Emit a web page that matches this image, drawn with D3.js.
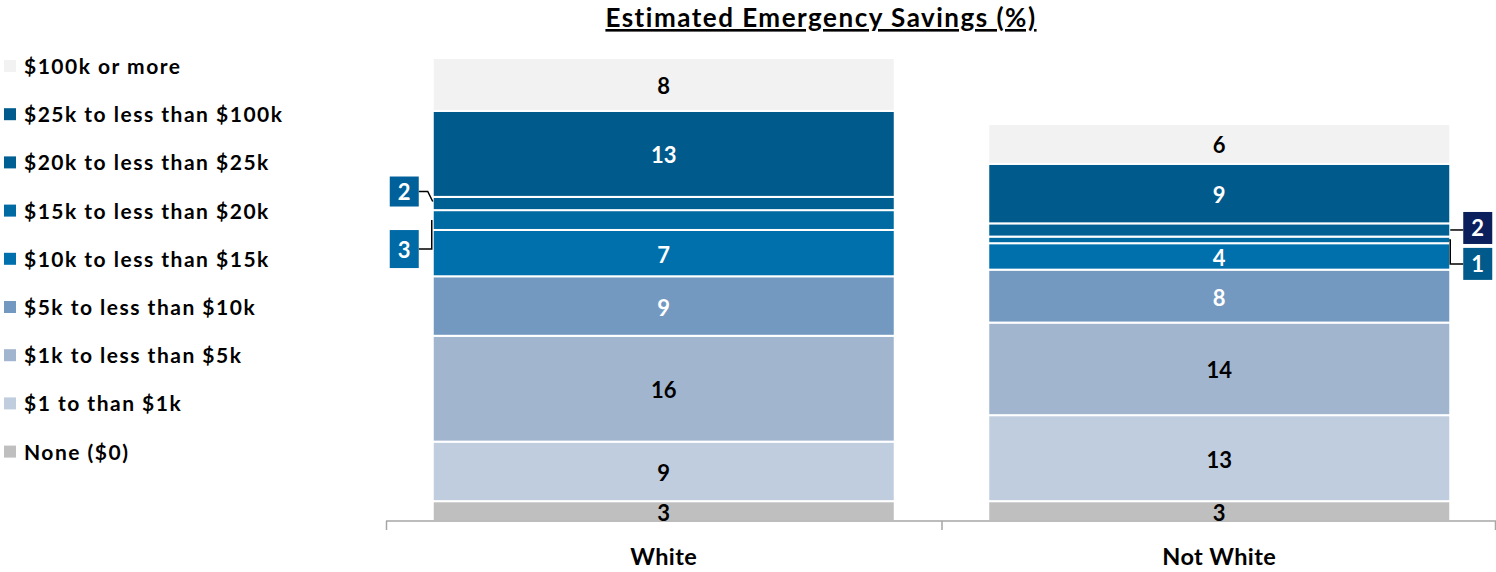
<!DOCTYPE html>
<html><head><meta charset="utf-8">
<script src="https://cdnjs.cloudflare.com/ajax/libs/d3/7.8.5/d3.min.js"></script>
<style>
html,body{margin:0;padding:0;background:#fff;}
svg text{font-family:Lato,"Open Sans",sans-serif;font-weight:700;}
</style></head>
<body><svg id="c" width="1496" height="572"></svg>
<script>
const categories = ["White", "Not White"];
const seriesNames = ["None ($0)", "$1 to than $1k", "$1k to less than $5k", "$5k to less than $10k",
  "$10k to less than $15k", "$15k to less than $20k", "$20k to less than $25k",
  "$25k to less than $100k", "$100k or more"];
const whiteValues = [3, 9, 16, 9, 7, 3, 2, 13, 8];
const notWhiteValues = [3, 13, 14, 8, 4, 1, 2, 9, 6];
const colors = ["#bfbfbf", "#c0cddf", "#a2b5cf", "#7399c1", "#0070ad", "#006aa3", "#005f93", "#005b8c", "#f2f2f2"];
const labelColors = ["#000", "#000", "#000", "#fff", "#fff", "#fff", "#fff", "#fff", "#000"];
const title = "Estimated Emergency Savings (%)";

const svg = d3.select("#c");
const valuesBy = {"White": whiteValues, "Not White": notWhiteValues};

const x = d3.scaleBand().domain(categories).range([386, 1497]).paddingInner(0).paddingOuter(0);
const barW = 462;
const y = d3.scaleLinear().domain([0, 70]).range([521, 58]);

// title
svg.append("text").attr("x", 821).attr("y", 27).attr("text-anchor", "middle")
  .attr("font-size", 26).attr("letter-spacing", 1.5).attr("text-decoration", "underline").attr("fill", "#000").text(title);

// bars
const stackData = categories.map(c => {
  let cum = 0;
  return valuesBy[c].map((v, i) => { const s = {cat: c, i, v, y0: cum, y1: cum + v}; cum += v; return s; });
});
const segs = stackData.flat();
const bx = c => x(c) + (x.bandwidth() - barW) / 2;

svg.append("g").selectAll("rect").data(segs).join("rect")
  .attr("x", d => bx(d.cat)).attr("width", barW)
  .attr("y", d => y(d.y1)).attr("height", d => y(d.y0) - y(d.y1))
  .attr("fill", d => colors[d.i]).attr("stroke", "#fff").attr("stroke-width", 2);

// axis
const axisG = svg.append("g").attr("transform", "translate(0,521)");
axisG.append("line").attr("x1", 386).attr("x2", 1496).attr("y1", 0).attr("y2", 0).attr("stroke", "#a6a6a6").attr("stroke-width", 1.5);
const tickXs = categories.map(c => x(c)).concat([x(categories[categories.length - 1]) + x.bandwidth() - 2]);
axisG.selectAll("line.t").data(tickXs).join("line").attr("class", "t")
  .attr("x1", d => d + 0.5).attr("x2", d => d + 0.5).attr("y1", 0).attr("y2", 9).attr("stroke", "#a6a6a6").attr("stroke-width", 1.5);
axisG.selectAll("text").data(categories).join("text")
  .attr("x", d => x(d) + x.bandwidth() / 2).attr("y", 44).attr("text-anchor", "middle")
  .attr("font-size", 23.5).attr("letter-spacing", 0.4).attr("fill", "#000").text(d => d);

// inside labels
const outside = {"White": {5: {side: "left", dy: 29}, 6: {side: "left", dy: -12}},
                 "Not White": {5: {side: "right", dy: 24}, 6: {side: "right", dy: -2}}};
const boxColors = {"White": {5: "#006aa6", 6: "#00609a"}, "Not White": {5: "#005b8c", 6: "#0a1f5c"}};
svg.append("g").selectAll("text").data(segs.filter(d => !(outside[d.cat][d.i]))).join("text")
  .attr("x", d => bx(d.cat) + barW / 2)
  .attr("y", d => (y(d.y0) + y(d.y1)) / 2 + 9.5)
  .attr("text-anchor", "middle").attr("font-size", 22)
  .attr("fill", d => labelColors[d.i]).text(d => d.v);

// callouts
const cg = svg.append("g");
segs.filter(d => outside[d.cat][d.i]).forEach(d => {
  const o = outside[d.cat][d.i];
  const cy = (y(d.y0) + y(d.y1)) / 2;
  const by = cy + o.dy;
  const bh = d.i === 5 && d.cat === "White" ? 38 : (d.cat === "White" ? 30 : 32);
  const bw = 29;
  let boxX, path;
  if (o.side === "left") {
    const edge = bx(d.cat);
    boxX = edge - 43;
    if (o.dy < 0) path = `M${boxX + bw},${by} L${edge - 5},${by} L${edge},${cy - 2}`;
    else path = `M${boxX + bw},${by} L${edge - 1},${by} L${edge - 1},${cy}`;
  } else {
    const edge = bx(d.cat) + barW;
    boxX = edge + 13;
    if (Math.abs(o.dy) < 5) path = `M${edge},${cy} L${boxX},${cy}`;
    else path = `M${edge - 1},${cy} L${edge},${cy} L${edge},${by} L${boxX},${by}`;
  }
  cg.append("path").attr("d", path).attr("fill", "none").attr("stroke", "#000").attr("stroke-width", 1.5);
  cg.append("rect").attr("x", boxX).attr("y", by - bh / 2).attr("width", bw).attr("height", bh)
    .attr("fill", boxColors[d.cat][d.i]);
  cg.append("text").attr("x", boxX + bw / 2).attr("y", by + 8.5).attr("text-anchor", "middle")
    .attr("font-size", 22).attr("fill", "#fff").text(d.v);
});

// legend (top to bottom)
const legendOrder = seriesNames.map((n, i) => ({n, i})).reverse();
const lg = svg.append("g");
lg.selectAll("rect").data(legendOrder).join("rect")
  .attr("x", 4).attr("y", (d, k) => 60 + k * 48.2).attr("width", 12).attr("height", 12)
  .attr("fill", d => colors[d.i]);
lg.selectAll("text").data(legendOrder).join("text")
  .attr("x", 24).attr("y", (d, k) => 74 + k * 48.2).attr("font-size", 21).attr("letter-spacing", 1.5).attr("fill", "#000")
  .text(d => d.n);
</script></body></html>
